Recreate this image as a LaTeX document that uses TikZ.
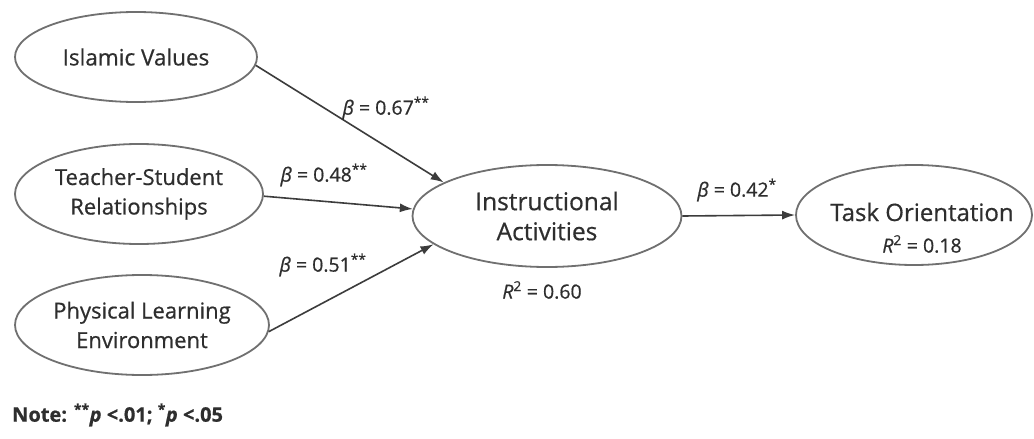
\documentclass[tikz,border=0pt]{standalone}
\usepackage{fontspec}
\setmainfont{Open Sans}[FakeBold=0.6,ItalicFeatures={FakeBold=0.6}]
\usetikzlibrary{shapes.geometric,arrows.meta}
\definecolor{txt}{HTML}{2E2E2E}
\definecolor{edge}{HTML}{3C3C3C}
\definecolor{rim}{HTML}{707070}
\begin{document}
\begin{tikzpicture}[x=1pt,y=-1pt,
  lv/.style={ellipse,draw=rim,line width=1.8pt,inner sep=0pt,align=center,text=txt,
    font=\fontsize{22}{29.5}\selectfont},
  arr/.style={draw=edge,line width=1.6pt,-{Latex[length=13pt,width=9pt]}},
  lab/.style={text=txt,inner sep=0pt,font=\fontsize{19.5}{22}\selectfont}]
\useasboundingbox (0,0) rectangle (1034,439);
\fill[white] (0,0) rectangle (1034,439);

\node[lv,minimum width=242pt,minimum height=90pt,font=\fontsize{22.5}{29}\selectfont] (iv) at (136,57) {Islamic Values};
\node[lv,minimum width=248pt,minimum height=100pt] (ts) at (139,194) {Teacher-Student\\Relationships};
\node[lv,minimum width=254pt,minimum height=100pt] (ple) at (142,325) {Physical Learning\\Environment};
\node[lv,minimum width=269pt,minimum height=102pt,font=\fontsize{24.5}{30}\selectfont] (ia) at (547,216) {Instructional\\Activities};
\node[lv,minimum width=236pt,minimum height=100pt] (to) at (914,215) {};
\node[text=txt,inner sep=0pt,font=\fontsize{24}{28}\selectfont] (tot) at (922,212) {Task Orientation};
\node[lab] (tor) at (922,244) {\textit{R}\textsuperscript{2} = 0.18};
\node[lab] (iar) at (542,290) {\textit{R}\textsuperscript{2} = 0.60};

\draw[arr] (iv.-4) -- (ia.162);
\draw[arr] (ts.-1) -- (ia.177);
\draw[arr] (ple.-3) -- (ia.-166);
\draw[arr] (ia.east) -- (to.west);

\node[lab] (b1) at (386,108) {\textit{β} = 0.67\textsuperscript{**}};
\node[lab] (b2) at (324,175) {\textit{β} = 0.48\textsuperscript{**}};
\node[lab] (b3) at (323,265) {\textit{β} = 0.51\textsuperscript{**}};
\node[lab] (b4) at (737,190) {\textit{β} = 0.42\textsuperscript{*}};

\node[lab,anchor=west,font=\bfseries\fontsize{20}{24}\selectfont] (note) at (12,415)
  {Note: \textsuperscript{**}\textit{p} <.01; \textsuperscript{*}\textit{p} <.05};
\end{tikzpicture}
\end{document}
